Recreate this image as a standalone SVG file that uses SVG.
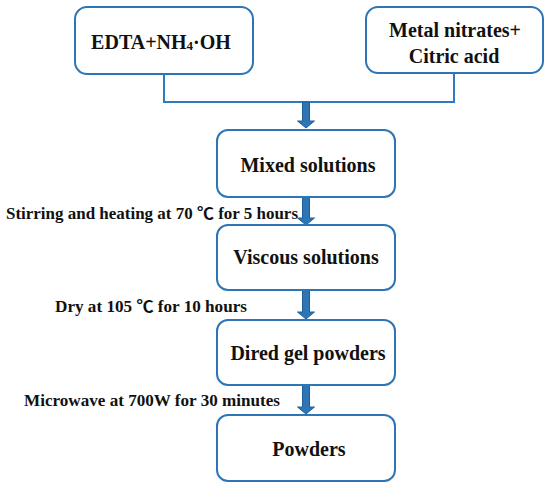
<svg xmlns="http://www.w3.org/2000/svg" xmlns:xlink="http://www.w3.org/1999/xlink" width="550" height="487" viewBox="0 0 550 487">
<style>
.box{fill:#fff;stroke:#2E75B6;stroke-width:2}
.t{font-family:"Liberation Serif","Noto Sans CJK SC",serif;font-weight:bold;font-size:20px;fill:#111;text-anchor:middle}
.lbl{font-family:"Liberation Serif","Noto Sans CJK SC",serif;font-weight:bold;font-size:16px;fill:#111}
.ln{fill:none;stroke:#2E7BC4;stroke-width:2}
.arr{fill:#2E75B6;stroke:#1F5F99;stroke-width:1}
</style>
<defs>
<path id="ar" d="M-3.5,0 H3.5 V-7 H8.5 L0,0.5 L-8.5,-7 H-3.5 Z" transform="scale(1)"/>
</defs>
<rect width="550" height="487" fill="#fff"/>
<g id="connectors">
<path class="ln" d="M164,74 V102 H454 V73"/>
<path class="arr" d="M302.5,102 H309.5 V121 H314.5 L306,128 L297.5,121 H302.5 Z"/>
<path class="arr" d="M302.5,197 H309.5 V218 H314.5 L306,225 L297.5,218 H302.5 Z"/>
<path class="arr" d="M302.5,290 H309.5 V312 H314.5 L306,319 L297.5,312 H302.5 Z"/>
<path class="arr" d="M302.5,385 H309.5 V407 H314.5 L306,414 L297.5,407 H302.5 Z"/>
</g>
<g id="edta">
<rect class="box" x="75" y="7" width="178" height="67" rx="12"/>
<text class="t" x="161" y="49">EDTA+NH<tspan font-size="13" dy="1">4</tspan><tspan dy="-1">·OH</tspan></text>
</g>
<g id="metal">
<rect class="box" x="366" y="7" width="177" height="66" rx="12"/>
<text class="t" x="455" y="37">Metal nitrates+</text>
<text class="t" x="454" y="63">Citric acid</text>
</g>
<g id="mixed">
<rect class="box" x="217" y="130" width="178" height="67" rx="11"/>
<text class="t" x="308" y="172">Mixed solutions</text>
</g>
<g id="viscous">
<rect class="box" x="217" y="225" width="178" height="65" rx="11"/>
<text class="t" x="306" y="264">Viscous solutions</text>
</g>
<g id="dired">
<rect class="box" x="217" y="320" width="178" height="65" rx="11"/>
<text class="t" x="308" y="360">Dired gel powders</text>
</g>
<g id="powders">
<rect class="box" x="217" y="415" width="178" height="66" rx="11"/>
<text class="t" x="309" y="456">Powders</text>
</g>
<g id="labels">
<text class="lbl" x="6" y="219" textLength="292" lengthAdjust="spacingAndGlyphs">Stirring and heating at 70 ℃ for 5 hours</text>
<text class="lbl" x="55" y="312" textLength="192" lengthAdjust="spacingAndGlyphs">Dry at 105 ℃ for 10 hours</text>
<text class="lbl" x="24" y="406" textLength="256" lengthAdjust="spacingAndGlyphs">Microwave at 700W for 30 minutes</text>
</g>
</svg>
